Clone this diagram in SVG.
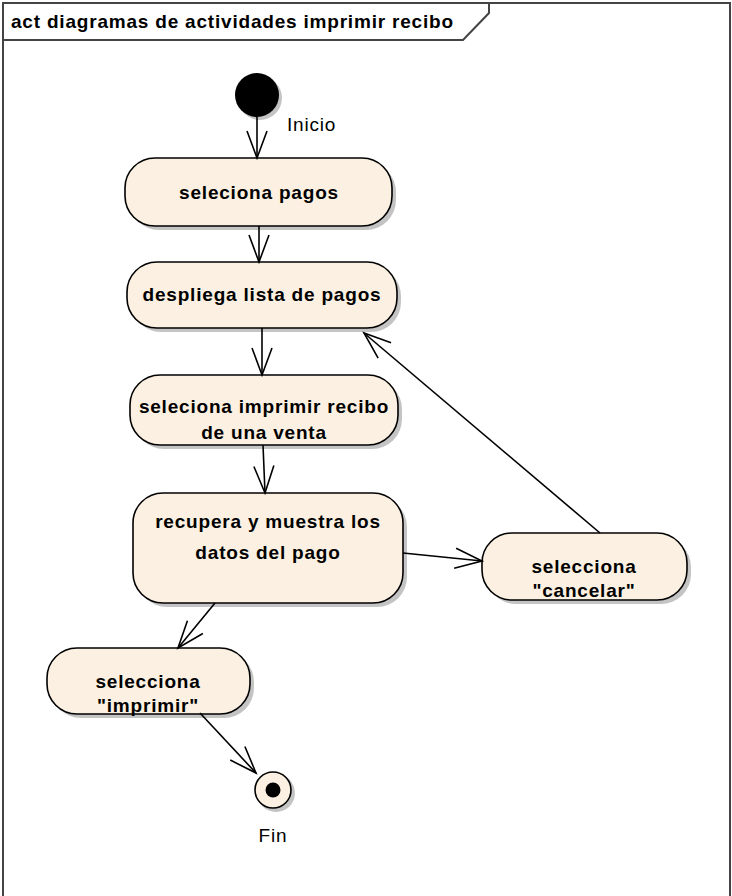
<svg xmlns="http://www.w3.org/2000/svg" width="732" height="896" viewBox="0 0 732 896">
<defs>
<style>
.frame{fill:none;stroke:#444;stroke-width:2}
.node{fill:#fbf0e1;stroke:#000;stroke-width:1.6}
.shadow{fill:#c4c4c4;stroke:none}
.lbl{font-family:"Liberation Sans",Arial,sans-serif;font-size:19px;font-weight:bold;letter-spacing:0.8px;fill:#000;text-anchor:middle}
.plain{font-family:"Liberation Sans",Arial,sans-serif;font-size:19px;letter-spacing:0.8px;fill:#000}
.edge{fill:none;stroke:#000;stroke-width:1.6}
</style>
<marker id="open" markerUnits="userSpaceOnUse" markerWidth="32" markerHeight="26" refX="28" refY="12" orient="auto" viewBox="0 0 32 26">
<path d="M1,2 L28,12 L1,22" fill="none" stroke="#000" stroke-width="1.6"/>
</marker>
</defs>
<rect width="732" height="896" fill="#fff"/>
<g id="frame">
<path class="frame" d="M3,900 L3,3 L730,3 L730,900"/>
<path class="frame" d="M3,40 L463,40 L489,13 L489,3"/>
<text x="11" y="28" class="plain" style="font-weight:bold">act diagramas de actividades imprimir recibo</text>
</g>
<g id="inicio">
<circle cx="260" cy="98" r="22" class="shadow"/>
<circle cx="257" cy="95" r="22" fill="#000"/>
<text x="287" y="131" class="plain">Inicio</text>
</g>
<g id="n1">
<rect x="129" y="162" width="267" height="68" rx="30" class="shadow"/>
<rect x="125" y="158" width="267" height="68" rx="30" class="node"/>
<text x="259" y="199" class="lbl">seleciona pagos</text>
</g>
<g id="n2">
<rect x="131" y="266" width="270" height="66" rx="30" class="shadow"/>
<rect x="127" y="262" width="270" height="66" rx="30" class="node"/>
<text x="262" y="301" class="lbl">despliega lista de pagos</text>
</g>
<g id="n3">
<rect x="134" y="379" width="268" height="70" rx="30" class="shadow"/>
<rect x="130" y="375" width="268" height="70" rx="30" class="node"/>
<text x="264" y="413" class="lbl">seleciona imprimir recibo</text>
<text x="264" y="439" class="lbl">de una venta</text>
</g>
<g id="n4">
<rect x="137" y="497" width="270" height="110" rx="30" class="shadow"/>
<rect x="133" y="493" width="270" height="110" rx="30" class="node"/>
<text x="268" y="528" class="lbl">recupera y muestra los</text>
<text x="268" y="559" class="lbl">datos del pago</text>
</g>
<g id="n5">
<rect x="486" y="537" width="205" height="67" rx="30" class="shadow"/>
<rect x="482" y="533" width="205" height="67" rx="30" class="node"/>
<text x="584" y="573" class="lbl">selecciona</text>
<text x="584" y="597" class="lbl">"cancelar"</text>
</g>
<g id="n6">
<rect x="51" y="652" width="203" height="66" rx="30" class="shadow"/>
<rect x="47" y="648" width="203" height="66" rx="30" class="node"/>
<text x="148" y="688" class="lbl">selecciona</text>
<text x="148" y="712" class="lbl">"imprimir"</text>
</g>
<g id="fin">
<circle cx="276" cy="793" r="19" class="shadow"/>
<circle cx="273" cy="790" r="18" class="node"/>
<circle cx="273" cy="790" r="7.5" fill="#000"/>
<text x="273" y="842" class="plain" text-anchor="middle">Fin</text>
</g>
<g id="connectors">
<path class="edge" d="M257,117 L257,158" marker-end="url(#open)"/>
<path class="edge" d="M259,226 L259,262" marker-end="url(#open)"/>
<path class="edge" d="M262,328 L262,375" marker-end="url(#open)"/>
<path class="edge" d="M263,445 L265,493" marker-end="url(#open)"/>
<path class="edge" d="M403,553 L482,561" marker-end="url(#open)"/>
<path class="edge" d="M600,533 L364,333" marker-end="url(#open)"/>
<path class="edge" d="M215,603 L178,648" marker-end="url(#open)"/>
<path class="edge" d="M200,713 L256,773" marker-end="url(#open)"/>
</g>
</svg>
